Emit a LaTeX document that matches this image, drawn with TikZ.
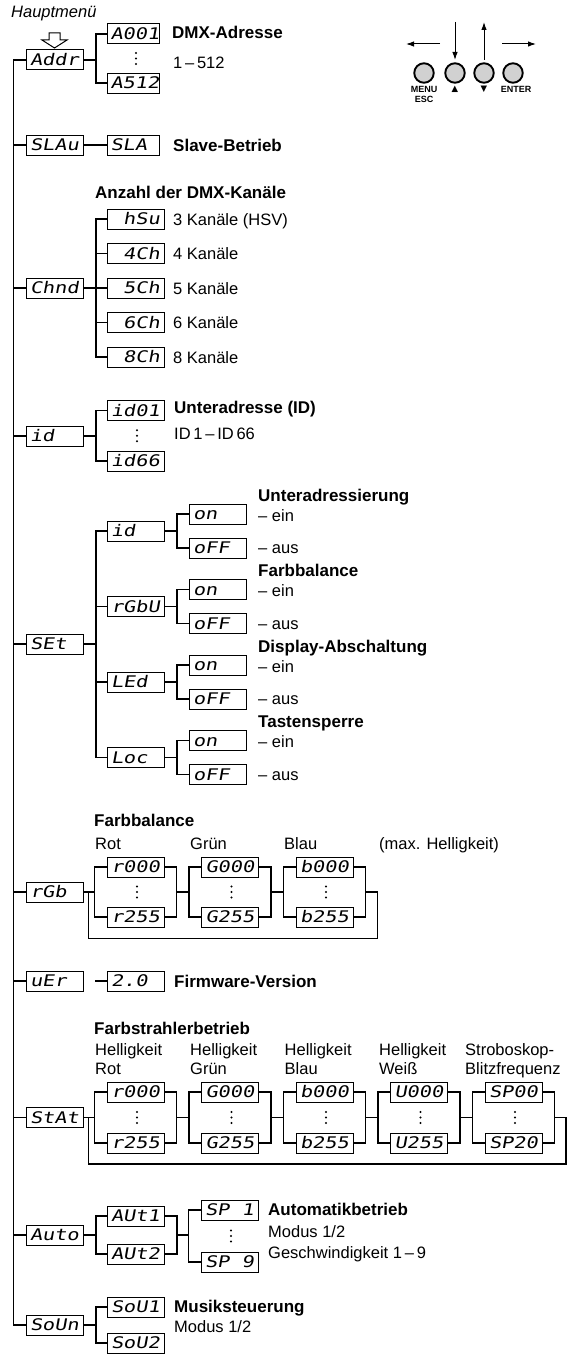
\documentclass[tikz,border=0pt]{standalone}
\usepackage{fontspec}
\setmainfont{Liberation Sans}
\newfontfamily\lcdfont[FakeSlant=0.18,FakeStretch=1.27]{DejaVu Sans Mono}
\newfontfamily\symfont{DejaVu Sans}
\usetikzlibrary{arrows.meta,calc}
\newcommand\lcdf{\lcdfont\fontsize{16}{16}\selectfont}
\newcommand\dt[1]{\makebox[49pt][l]{#1}}
\newcommand\dtn[1]{\makebox[45pt][l]{#1}}
\newcommand\ph{\phantom{0}}
\begin{document}
\begin{tikzpicture}[x=1pt,y=-1pt,
 conn/.style={line width=1.1pt},
 disp/.style={draw,line width=1pt,minimum width=57pt,minimum height=20pt,inner sep=0pt,text height=11.7pt,text depth=0pt,font=\lcdf},
 dispn/.style={disp,minimum width=52pt},
 lbl/.style={anchor=west,inner sep=0pt,text height=12pt,text depth=0pt,font=\fontsize{16.5}{19}\selectfont},
 ttl/.style={lbl,font=\bfseries\fontsize{17}{19}\selectfont},
 btn/.style={circle,draw,line width=1.9pt,fill=black!18,minimum size=19.5pt,inner sep=0pt},
 btl/.style={font=\bfseries\fontsize{9}{10}\selectfont,inner sep=0pt},
 parr/.style={line width=1pt,-{Latex[length=8pt,width=5.5pt]}}
]
\useasboundingbox (0,0) rectangle (572,1354);

% ---------- header ----------
\node[lbl,font=\itshape\fontsize{16.5}{19}\selectfont] (hm) at (11,12) {Hauptmenü};
\draw[line width=1pt,fill=white] (49,33) -- (60,33) -- (60,40) -- (67,40) -- (54.5,48) -- (42,40) -- (49,40) -- cycle;

% ---------- buttons ----------
\node[btn] (b1) at (424,73) {};
\node[btn] (b2) at (455,73) {};
\node[btn] (b3) at (484,73) {};
\node[btn] (b4) at (513,73) {};
\draw[parr] ($(b1)+(16,-29)$) -- ($(b1)+(-18,-29)$);
\draw[parr] ($(b2)+(0,-51)$) -- ($(b2)+(0,-13)$);
\draw[parr] ($(b3)+(0,-13)$) -- ($(b3)+(0,-51)$);
\draw[parr] ($(b4)+(-11,-29)$) -- ($(b4)+(23,-29)$);
\node[btl] (lmenu) at (424,89) {MENU};
\node[btl] (lesc) at (424,99.5) {ESC};
\node[btl,font=\symfont\fontsize{8.5}{9}\selectfont] (lup) at (455,89) {▲};
\node[btl,font=\symfont\fontsize{8.5}{9}\selectfont] (ldn) at (484,89) {▼};
\node[btl] (lent) at (516,89) {ENTER};

% ---------- main menu ----------
\node[disp] (addr) at (54.5,60) {\dt{Addr}};
\node[disp] (slau) at (54.5,145) {\dt{SLAu}};
\node[disp] (chnd) at (54.5,288) {\dt{Chnd}};
\node[disp] (idm) at (54.5,436) {\dt{id}};
\node[disp] (set) at (54.5,644) {\dt{SEt}};
\node[disp] (rgb) at (54.5,892) {\dt{rGb}};
\node[disp] (uer) at (54.5,981) {\dt{uEr}};
\node[disp] (stat) at (54.5,1117.5) {\dt{StAt}};
\node[disp] (auto) at (54.5,1235) {\dt{Auto}};
\node[disp] (soun) at (54.5,1325) {\dt{SoUn}};
\coordinate (mt) at (13.3,60);
\coordinate (mb) at (13.3,1325);
\draw[conn] (addr.west) -- (mt) -- (mb) -- (soun.west);
\foreach \n in {slau,chnd,idm,set,rgb,uer,stat,auto} \draw[conn] (\n.west) -- (\n.west -| mt);

\coordinate (j) at (96,0);

% ---------- Addr ----------
\node[dispn] (a001) at (133,34) {\dtn{A001}};
\node[dispn] (a512) at (133,83) {\dtn{A512}};
\draw[conn] (addr.east) -- (addr.east -| j);
\draw[conn] (a001.west) -- (a001.west -| j) -- (a512.west -| j) -- (a512.west);
\foreach \d in {-5.5,0,5.5} \fill ($(a001)!0.5!(a512)+(3,\d)$) circle (1.1pt);
\node[ttl] (tdmx) at (172,33) {DMX-Adresse};
\node[lbl] (t512) at (173,63) {1\,–\,512};

% ---------- SLAu ----------
\node[dispn] (sla) at (133,145) {\dtn{SLA}};
\draw[conn] (slau) -- (sla);
\node[ttl] (tsla) at (173,145) {Slave-Betrieb};

% ---------- Chnd ----------
\node[ttl] (tch) at (95,192) {Anzahl der DMX-Kanäle};
\node[disp] (hsu) at (135.5,219) {\dt{\ph hSu}};
\node[disp] (c4) at (135.5,253.5) {\dt{\ph 4Ch}};
\node[disp] (c5) at (135.5,288) {\dt{\ph 5Ch}};
\node[disp] (c6) at (135.5,322.5) {\dt{\ph 6Ch}};
\node[disp] (c8) at (135.5,357) {\dt{\ph 8Ch}};
\draw[conn] (chnd.east) -- (chnd.east -| j);
\draw[conn] (hsu.west) -- (hsu.west -| j) -- (c8.west -| j) -- (c8.west);
\foreach \n in {c4,c5,c6} \draw[conn] (\n.west) -- (\n.west -| j);
\node[lbl] (thsu) at (173,219) {3 Kanäle (HSV)};
\node[lbl] (tc4) at (173,253.5) {4 Kanäle};
\node[lbl] (tc5) at (173,288) {5 Kanäle};
\node[lbl] (tc6) at (173,322.5) {6 Kanäle};
\node[lbl] (tc8) at (173,357) {8 Kanäle};

% ---------- id ----------
\node[disp] (id01) at (135.5,410.5) {\dt{id01}};
\node[disp] (id66) at (135.5,461) {\dt{id66}};
\draw[conn] (idm.east) -- (idm.east -| j);
\draw[conn] (id01.west) -- (id01.west -| j) -- (id66.west -| j) -- (id66.west);
\foreach \d in {-5.5,0,5.5} \fill ($(id01)!0.5!(id66)+(1.5,\d)$) circle (1.1pt);
\node[ttl] (tid) at (174,407) {Unteradresse (ID)};
\node[lbl] (tid2) at (174,433) {ID\,1\,–\,ID\,66};

% ---------- SEt ----------
\coordinate (k) at (177,0);
\draw[conn] (set.east) -- (set.east -| j);
\foreach \n/\t/\c/\ttxt in {sid/id/531/Unteradressierung, srgbu/rGbU/606.5/Farbbalance, sled/LEd/682/Display-Abschaltung, sloc/Loc/757.5/Tastensperre}{
  \node[disp] (\n) at (135.5,\c) {\dt{\t}};
  \node[disp] (\n-on) at (217.5,\c-17) {\dt{on}};
  \node[disp] (\n-off) at (217.5,\c+17) {\dt{oFF}};
  \draw[conn] (\n.east) -- (\n.east -| k);
  \draw[conn] (\n-on.west) -- (\n-on.west -| k) -- (\n-off.west -| k) -- (\n-off.west);
  \node[ttl] (\n-t) at (258,\c-36) {\ttxt};
  \node[lbl] (\n-te) at (258,\c-16) {– ein};
  \node[lbl] (\n-ta) at (258,\c+16.5) {– aus};
}
\draw[conn] (sid.west) -- (sid.west -| j) -- (sloc.west -| j) -- (sloc.west);
\foreach \n in {srgbu,sled} \draw[conn] (\n.west) -- (\n.west -| j);

% ---------- rGb ----------
\node[ttl] (tfb) at (94,820) {Farbbalance};
\node[lbl] (trot) at (95,843) {Rot};
\node[lbl] (tgr) at (190,843) {Grün};
\node[lbl] (tbl) at (284,843) {Blau};
\node[lbl] (tmax) at (379,843) {(max. Helligkeit)};
\foreach \n/\a/\b/\cx in {r/r000/r255/135.5, g/G000/G255/230, b/b000/b255/324.5}{
  \node[disp] (rg\n t) at (\cx,867) {\dt{\a}};
  \node[disp] (rg\n b) at (\cx,917) {\dt{\b}};
  \coordinate (rg\n L) at (\cx-41,892);
  \coordinate (rg\n R) at (\cx+41,892);
  \draw[conn] (rg\n t.west) -- (rg\n t.west -| rg\n L) -- (rg\n b.west -| rg\n L) -- (rg\n b.west);
  \draw[conn] (rg\n t.east) -- (rg\n t.east -| rg\n R) -- (rg\n b.east -| rg\n R) -- (rg\n b.east);
  \foreach \d in {-5.5,0,5.5} \fill ($(rg\n t)!0.5!(rg\n b)+(1.5,\d)$) circle (1.1pt);
}
\coordinate (rgret1) at (377.5,892);
\coordinate (rgret2) at (377.5,938.5);
\coordinate (rgret3) at (88.6,938.5);
\draw[conn] (rgb.east) -- (rgrL);
\draw[conn] (rgrR) -- (rggL);
\draw[conn] (rggR) -- (rgbL);
\draw[conn] (rgbR) -- (rgret1) -- (rgret2) -- (rgret3) -- (rgret3 |- rgb);

% ---------- uEr ----------
\node[disp] (fw) at (135.5,981) {\dt{2.0}};
\draw[conn] (uer.east) ++(11.5,0) -- (fw.west);
\node[ttl] (tfw) at (174,981) {Firmware-Version};

% ---------- StAt ----------
\node[ttl] (tfs) at (94,1028) {Farbstrahlerbetrieb};
\foreach \n/\a/\b/\cx/\la/\lb/\lx in {r/r000/r255/135.5/Helligkeit/Rot/95, g/G000/G255/230/Helligkeit/Grün/190, b/b000/b255/324.5/Helligkeit/Blau/284.5, w/U000/U255/419/Helligkeit/Weiß/379, s/SP00/SP20/513.5/Stroboskop-/Blitzfrequenz/465}{
  \node[disp] (st\n t) at (\cx,1092) {\dt{\a}};
  \node[disp] (st\n b) at (\cx,1143) {\dt{\b}};
  \coordinate (st\n L) at (\cx-41,1117.5);
  \coordinate (st\n R) at (\cx+41,1117.5);
  \draw[conn] (st\n t.west) -- (st\n t.west -| st\n L) -- (st\n b.west -| st\n L) -- (st\n b.west);
  \draw[conn] (st\n t.east) -- (st\n t.east -| st\n R) -- (st\n b.east -| st\n R) -- (st\n b.east);
  \foreach \d in {-5.5,0,5.5} \fill ($(st\n t)!0.5!(st\n b)+(1.5,\d)$) circle (1.1pt);
  \node[lbl] (st\n la) at (\lx,1049) {\la};
  \node[lbl] (st\n lb) at (\lx,1068) {\lb};
}
\coordinate (stret1) at (566,1117.5);
\coordinate (stret2) at (566,1164);
\coordinate (stret3) at (88.6,1164);
\draw[conn] (stat.east) -- (strL);
\draw[conn] (strR) -- (stgL);
\draw[conn] (stgR) -- (stbL);
\draw[conn] (stbR) -- (stwL);
\draw[conn] (stwR) -- (stsL);
\draw[conn] (stsR) -- (stret1) -- (stret2) -- (stret3) -- (stret3 |- stat);

% ---------- Auto ----------
\node[disp] (aut1) at (135.5,1216) {\dt{AUt1}};
\node[disp] (aut2) at (135.5,1254) {\dt{AUt2}};
\node[disp] (sp1) at (229.5,1210) {\dt{SP\ph 1}};
\node[disp] (sp9) at (229.5,1262) {\dt{SP\ph 9}};
\coordinate (ak) at (177,0);
\coordinate (am) at (188.5,0);
\draw[conn] (auto.east) -- (auto.east -| j);
\draw[conn] (aut1.west) -- (aut1.west -| j) -- (aut2.west -| j) -- (aut2.west);
\draw[conn] (aut1.east) -- (aut1.east -| ak) -- (aut2.east -| ak) -- (aut2.east);
\draw[conn] (auto -| ak) -- (auto -| am);
\draw[conn] (sp1.west) -- (sp1.west -| am) -- (sp9.west -| am) -- (sp9.west);
\foreach \d in {-5.5,0,5.5} \fill ($(sp1)!0.5!(sp9)+(1.5,\d)$) circle (1.1pt);
\node[ttl] (tau) at (268,1209) {Automatikbetrieb};
\node[lbl] (tau2) at (268,1231) {Modus 1/2};
\node[lbl] (tau3) at (268,1252) {Geschwindigkeit 1\,–\,9};

% ---------- SoUn ----------
\node[disp] (sou1) at (135.5,1307) {\dt{SoU1}};
\node[disp] (sou2) at (135.5,1343) {\dt{SoU2}};
\draw[conn] (soun.east) -- (soun.east -| j);
\draw[conn] (sou1.west) -- (sou1.west -| j) -- (sou2.west -| j) -- (sou2.west);
\node[ttl] (tms) at (174,1306) {Musiksteuerung};
\node[lbl] (tms2) at (174,1326) {Modus 1/2};
\end{tikzpicture}
\end{document}
